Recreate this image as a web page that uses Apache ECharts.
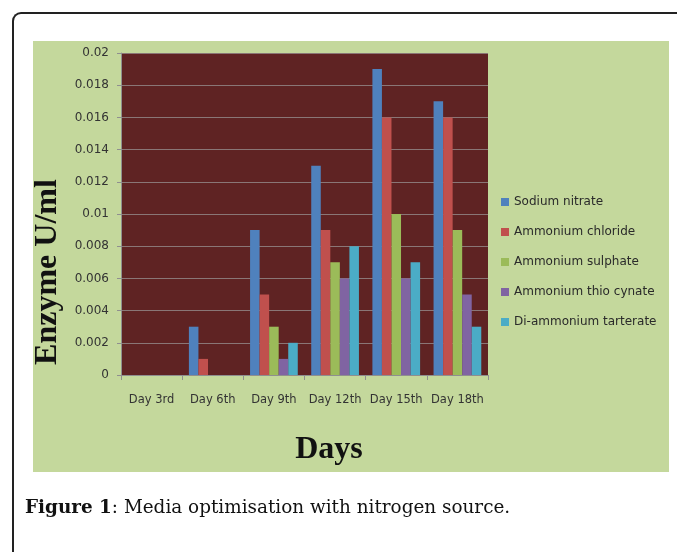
<!DOCTYPE html>
<html>
<head>
<meta charset="utf-8">
<script src="https://cdn.jsdelivr.net/npm/echarts@6/dist/echarts.min.js"></script>
<style>
  html, body { margin: 0; padding: 0; background: #fff; }
  .frame {
    position: absolute; left: 12px; top: 12px; width: 700px; height: 600px;
    border-left: 2px solid #222; border-top: 2px solid #222;
    border-top-left-radius: 9px;
  }
  .panel {
    position: absolute; left: 33px; top: 41px; width: 636px; height: 431px;
    background: #c4d89c;
  }
  #chart { position: absolute; left: 0; top: 0; width: 677px; height: 552px; }
</style>
</head>
<body>
<div class="frame"></div>
<div class="panel"></div>
<div id="chart"></div>
<script>
const days = ['Day 3rd', 'Day 6th', 'Day 9th', 'Day 12th', 'Day 15th', 'Day 18th'];
const sodiumNitrate = [0, 0.003, 0.009, 0.013, 0.019, 0.017];
const ammoniumChloride = [0, 0.001, 0.005, 0.009, 0.016, 0.016];
const ammoniumSulphate = [0, 0, 0.003, 0.007, 0.010, 0.009];
const ammoniumThioCynate = [0, 0, 0.001, 0.006, 0.006, 0.005];
const diAmmoniumTarterate = [0, 0, 0.002, 0.008, 0.007, 0.003];

const seriesNames = ['Sodium nitrate', 'Ammonium chloride', 'Ammonium sulphate', 'Ammonium thio cynate', 'Di-ammonium tarterate'];
const seriesData = [sodiumNitrate, ammoniumChloride, ammoniumSulphate, ammoniumThioCynate, diAmmoniumTarterate];
const colors = ['#4f81bd', '#c0504d', '#9bbb59', '#8064a2', '#4bacc6'];

const chart = echarts.init(document.getElementById('chart'));

const option = {
  animation: false,
  backgroundColor: 'transparent',
  color: colors,
  grid: {
    left: 121,
    top: 53,
    right: 189,
    bottom: 177,
    show: true,
    backgroundColor: '#5f2323',
    borderWidth: 0
  },
  legend: {
    orient: 'vertical',
    left: 496,
    top: 191,
    itemWidth: 8,
    itemHeight: 8,
    itemGap: 18,
    icon: 'rect',
    textStyle: {
      fontFamily: 'DejaVu Sans',
      fontSize: 12,
      color: '#2a2a2a'
    },
    data: seriesNames
  },
  xAxis: {
    type: 'category',
    data: days,
    axisLine: { lineStyle: { color: '#8f8f8f', width: 1 } },
    axisTick: { show: true, length: 5, lineStyle: { color: '#8f8f8f' } },
    axisLabel: {
      margin: 19,
      interval: 0,
      fontFamily: 'DejaVu Sans',
      fontSize: 11.5,
      color: '#333'
    }
  },
  yAxis: {
    type: 'value',
    min: 0,
    max: 0.02,
    interval: 0.002,
    axisLine: { show: true, lineStyle: { color: '#8f8f8f', width: 1 } },
    axisTick: { show: true, length: 4, lineStyle: { color: '#8f8f8f' } },
    splitLine: { lineStyle: { color: '#8a7676', width: 1 } },
    axisLabel: {
      margin: 12,
      fontFamily: 'DejaVu Sans',
      fontSize: 12,
      color: '#333',
      formatter: function (v) {
        return String(+v.toFixed(3));
      }
    }
  },
  series: seriesData.map(function (d, i) {
    return {
      name: seriesNames[i],
      type: 'bar',
      data: d,
      barGap: 0,
      barCategoryGap: '22%'
    };
  }),
  graphic: [
    {
      type: 'text',
      x: 48,
      y: 272,
      rotation: Math.PI / 2,
      style: {
        text: 'Enzyme U/ml',
        font: 'bold 32px "Liberation Serif"',
        fill: '#111',
        align: 'center',
        verticalAlign: 'middle'
      }
    },
    {
      type: 'text',
      x: 329,
      y: 450,
      style: {
        text: 'Days',
        font: 'bold 32px "Liberation Serif"',
        fill: '#111',
        align: 'center',
        verticalAlign: 'middle'
      }
    },
    {
      type: 'text',
      x: 25,
      y: 508,
      style: {
        text: '{b|Figure 1}{r|: Media optimisation with nitrogen source.}',
        verticalAlign: 'middle',
        rich: {
          b: { font: 'bold 18.4px "DejaVu Serif"', fill: '#111' },
          r: { font: '18.4px "DejaVu Serif"', fill: '#111' }
        }
      }
    }
  ]
};

chart.setOption(option);
</script>
</body>
</html>
